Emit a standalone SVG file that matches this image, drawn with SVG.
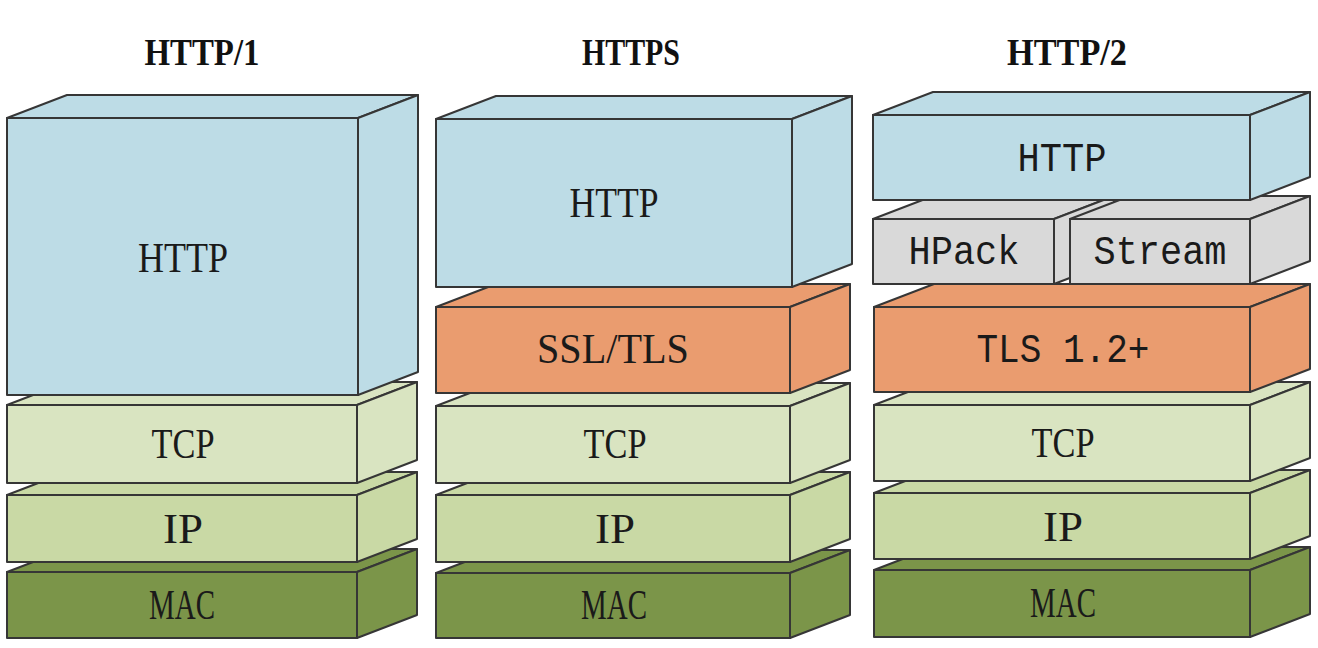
<svg xmlns="http://www.w3.org/2000/svg" width="1318" height="648" viewBox="0 0 1318 648">
<style>
.f{stroke:#363636;stroke-width:2;stroke-linejoin:round}
.blue{fill:#bddce6}
.orange{fill:#ea9c6f}
.grey{fill:#d9d9d9}
.tcp{fill:#d9e4c1}
.ip{fill:#c9d9a5}
.mac{fill:#7b9549}
.t{font-family:"Liberation Serif",serif;font-size:42px;fill:#1a1a1a;text-anchor:middle}
.m{font-family:"Liberation Mono",monospace;font-size:41px;fill:#1a1a1a;text-anchor:middle}
.h{font-family:"Liberation Serif",serif;font-size:37px;font-weight:bold;fill:#111;text-anchor:middle}
</style>
<rect width="1318" height="648" fill="#ffffff"/>
<g id="titles">
<text class="h" x="202" y="65" textLength="115" lengthAdjust="spacingAndGlyphs">HTTP/1</text>
<text class="h" x="631" y="65" textLength="98" lengthAdjust="spacingAndGlyphs">HTTPS</text>
<text class="h" x="1067" y="65" textLength="120" lengthAdjust="spacingAndGlyphs">HTTP/2</text>
</g>
<g id="connectors"></g>
<!-- Column 1 -->
<g id="c1-mac" class="f mac">
<polygon points="7,572 67,549 417,549 357,572"/>
<polygon points="357,572 417,549 417,615 357,638"/>
<rect x="7" y="572" width="350" height="66"/>
<text class="t" x="182" y="619" textLength="66" lengthAdjust="spacingAndGlyphs" stroke="none">MAC</text>
</g>
<g id="c1-ip" class="f ip">
<polygon points="7,495 67,472 417,472 357,495"/>
<polygon points="357,495 417,472 417,539 357,562"/>
<rect x="7" y="495" width="350" height="67"/>
<text class="t" x="183" y="543" textLength="40" lengthAdjust="spacingAndGlyphs" stroke="none">IP</text>
</g>
<g id="c1-tcp" class="f tcp">
<polygon points="7,405 67,382 417,382 357,405"/>
<polygon points="357,405 417,382 417,460 357,483"/>
<rect x="7" y="405" width="350" height="78"/>
<text class="t" x="183" y="458" textLength="63" lengthAdjust="spacingAndGlyphs" stroke="none">TCP</text>
</g>
<g id="c1-http" class="f blue">
<polygon points="7,118 67,95 418,95 358,118"/>
<polygon points="358,118 418,95 418,372 358,395"/>
<rect x="7" y="118" width="351" height="277"/>
<text class="t" x="183" y="272" textLength="90" lengthAdjust="spacingAndGlyphs" stroke="none">HTTP</text>
</g>
<!-- Column 2 -->
<g id="c2-mac" class="f mac">
<polygon points="436,573 496,550 850,550 790,573"/>
<polygon points="790,573 850,550 850,615 790,638"/>
<rect x="436" y="573" width="354" height="65"/>
<text class="t" x="614" y="619" textLength="66" lengthAdjust="spacingAndGlyphs" stroke="none">MAC</text>
</g>
<g id="c2-ip" class="f ip">
<polygon points="436,495 496,472 850,472 790,495"/>
<polygon points="790,495 850,472 850,539 790,562"/>
<rect x="436" y="495" width="354" height="67"/>
<text class="t" x="615" y="543" textLength="40" lengthAdjust="spacingAndGlyphs" stroke="none">IP</text>
</g>
<g id="c2-tcp" class="f tcp">
<polygon points="436,406 496,383 850,383 790,406"/>
<polygon points="790,406 850,383 850,460 790,483"/>
<rect x="436" y="406" width="354" height="77"/>
<text class="t" x="615" y="458" textLength="63" lengthAdjust="spacingAndGlyphs" stroke="none">TCP</text>
</g>
<g id="c2-ssl" class="f orange">
<polygon points="436,307 496,284 850,284 790,307"/>
<polygon points="790,307 850,284 850,370 790,393"/>
<rect x="436" y="307" width="354" height="86"/>
<text class="t" x="613" y="363" textLength="152" lengthAdjust="spacingAndGlyphs" stroke="none">SSL/TLS</text>
</g>
<g id="c2-http" class="f blue">
<polygon points="436,119 496,96 852,96 792,119"/>
<polygon points="792,119 852,96 852,264 792,287"/>
<rect x="436" y="119" width="356" height="168"/>
<text class="t" x="614" y="217" textLength="89" lengthAdjust="spacingAndGlyphs" stroke="none">HTTP</text>
</g>
<!-- Column 3 -->
<g id="c3-mac" class="f mac">
<polygon points="874,570 934,547 1310,547 1250,570"/>
<polygon points="1250,570 1310,547 1310,614 1250,637"/>
<rect x="874" y="570" width="376" height="67"/>
<text class="t" x="1063" y="617" textLength="66" lengthAdjust="spacingAndGlyphs" stroke="none">MAC</text>
</g>
<g id="c3-ip" class="f ip">
<polygon points="874,493 934,470 1310,470 1250,493"/>
<polygon points="1250,493 1310,470 1310,536 1250,559"/>
<rect x="874" y="493" width="376" height="66"/>
<text class="t" x="1063" y="541" textLength="40" lengthAdjust="spacingAndGlyphs" stroke="none">IP</text>
</g>
<g id="c3-tcp" class="f tcp">
<polygon points="874,405 934,382 1310,382 1250,405"/>
<polygon points="1250,405 1310,382 1310,458 1250,481"/>
<rect x="874" y="405" width="376" height="76"/>
<text class="t" x="1063" y="457" textLength="63" lengthAdjust="spacingAndGlyphs" stroke="none">TCP</text>
</g>
<g id="c3-tls" class="f orange">
<polygon points="874,307 934,284 1310,284 1250,307"/>
<polygon points="1250,307 1310,284 1310,369 1250,392"/>
<rect x="874" y="307" width="376" height="85"/>
<text class="m" x="1063" y="362" textLength="173" lengthAdjust="spacingAndGlyphs" stroke="none">TLS 1.2+</text>
</g>
<g id="c3-hpack" class="f grey">
<polygon points="873,219 933,196 1114,196 1054,219"/>
<polygon points="1054,219 1114,196 1114,261 1054,284"/>
<rect x="873" y="219" width="181" height="65"/>
<text class="m" x="964" y="264" textLength="111" lengthAdjust="spacingAndGlyphs" stroke="none">HPack</text>
</g>
<g id="c3-stream" class="f grey">
<polygon points="1070,219 1130,196 1310,196 1250,219"/>
<polygon points="1250,219 1310,196 1310,261 1250,284"/>
<rect x="1070" y="219" width="180" height="65"/>
<text class="m" x="1160" y="264" textLength="133" lengthAdjust="spacingAndGlyphs" stroke="none">Stream</text>
</g>
<g id="c3-http" class="f blue">
<polygon points="873,115 933,92 1310,92 1250,115"/>
<polygon points="1250,115 1310,92 1310,177 1250,200"/>
<rect x="873" y="115" width="377" height="85"/>
<text class="m" x="1062" y="171" textLength="89" lengthAdjust="spacingAndGlyphs" stroke="none">HTTP</text>
</g>
</svg>
